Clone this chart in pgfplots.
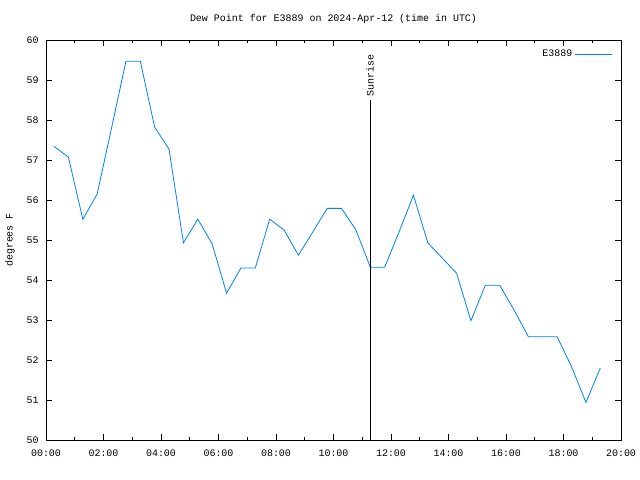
\documentclass[border=0pt]{standalone}
\usepackage{fontspec}
\setmainfont{Liberation Mono}
\usepackage{pgfplots}
\pgfplotsset{compat=1.18}
\definecolor{lineblue}{RGB}{0,128,255}
\begin{document}
\fontsize{10}{12}\selectfont
\begin{tikzpicture}[x=1bp,y=1bp]
\useasboundingbox (0,0) rectangle (640,480);
\begin{axis}[
  at={(46bp,40bp)}, anchor=south west,
  scale only axis, width=575bp, height=400bp,
  xmin=0, xmax=20, ymin=50, ymax=60,
  xtick={0,2,...,20},
  xticklabels={00:00,02:00,04:00,06:00,08:00,10:00,12:00,14:00,16:00,18:00,20:00},
  minor x tick num=1,
  ytick={50,51,...,60},
  tick align=inside,
  major tick length=6bp, minor tick length=3bp,
  axis line style={black, line width=0.8bp},
  tick style={black, line width=0.8bp},
  /pgf/number format/assume math mode=true,
  ticklabel style={font=\fontsize{10}{12}\selectfont},
  xticklabel style={yshift=-6bp},
  yticklabel style={xshift=-4bp},
  legend style={at={(rel axis cs:0.99,0.985)}, anchor=north east, draw=none, fill=none,
    font=\fontsize{10}{12}\selectfont, legend cell align=right},
  legend plot pos=right,
  legend image code/.code={\path (0bp,0bp) -- (10bp,0bp); \draw[#1] (10bp,0bp) -- (37bp,0bp);},
  clip=false,
]
\addplot[lineblue, line width=0.8bp] coordinates {
(0.28,57.34) (0.78,57.07) (1.28,55.52) (1.78,56.15) (2.28,57.80) (2.78,59.47)
(3.28,59.47) (3.78,57.82) (4.28,57.27) (4.78,54.93) (5.28,55.52) (5.78,54.90)
(6.28,53.67) (6.78,54.30) (7.28,54.30) (7.78,55.52) (8.28,55.25) (8.78,54.62)
(9.28,55.20) (9.78,55.79) (10.28,55.79) (10.78,55.25) (11.28,54.32) (11.78,54.32)
(12.28,55.20) (12.78,56.12) (13.28,54.93) (13.78,54.55) (14.28,54.17) (14.78,52.98)
(15.28,53.87) (15.78,53.87) (16.28,53.25) (16.78,52.58) (17.28,52.58) (17.78,52.58)
(18.28,51.83) (18.78,50.94) (19.28,51.80)
};
\addlegendentry{E3889}
\draw[black, line width=0.8bp] (axis cs:11.27,50) -- (axis cs:11.27,58.5);
\node[rotate=90, anchor=west, inner sep=1bp, font=\fontsize{10}{12}\selectfont] at (axis cs:11.27,58.55) {Sunrise};
\end{axis}
\node at (333.5,461) {Dew Point for E3889 on 2024-Apr-12 (time in UTC)};
\node[rotate=90] at (10,240) {degrees F};
\end{tikzpicture}
\end{document}
